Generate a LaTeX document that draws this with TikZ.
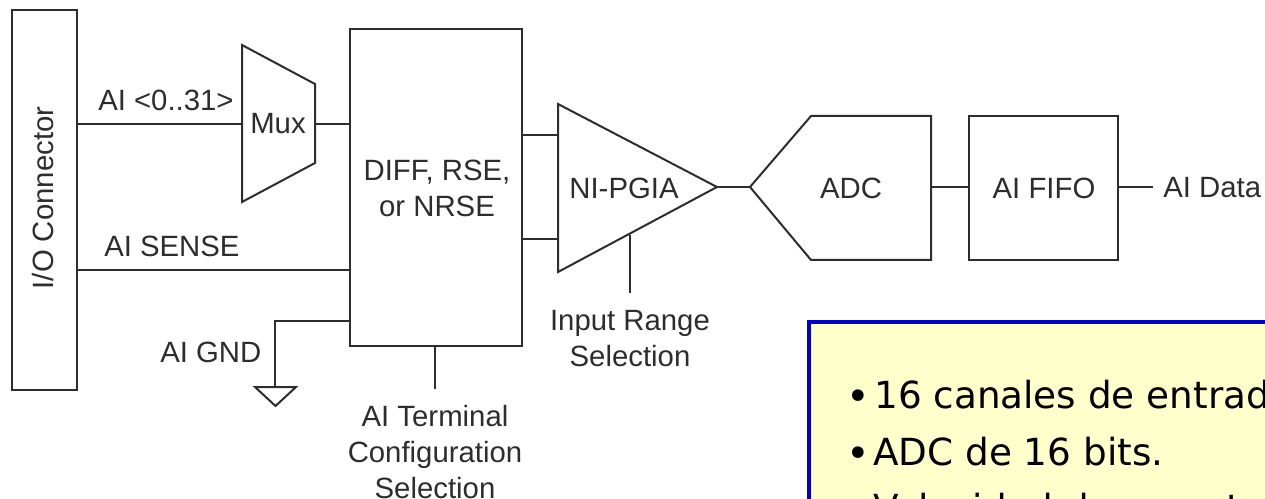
\documentclass[tikz,border=0pt]{standalone}
\usepackage{fontspec}
\setmainfont{Liberation Sans}
\newfontfamily\boxfont{DejaVu Sans}
\definecolor{ink}{RGB}{45,45,45}
\definecolor{noteblue}{RGB}{0,0,205}
\definecolor{notefill}{RGB}{255,255,204}
\tikzset{
  wire/.style={draw=ink,line width=1.5pt},
  block/.style={draw=ink,line width=1.5pt,fill=white},
  lbl/.style={text=ink,font=\fontsize{22}{27}\selectfont,inner sep=0pt,align=center},
  note/.style={text=black,font=\boxfont\fontsize{28}{34}\selectfont,inner sep=0pt,anchor=base west},
  notebullet/.style={text=black,font=\boxfont\fontsize{30}{34}\selectfont,inner sep=0pt,anchor=base west}
}
\begin{document}
\begin{tikzpicture}[x=0.75pt,y=-0.75pt]
\useasboundingbox (0,0) rectangle (1265,499);
\clip (0,0) rectangle (1265,499);
% blocks
\draw[block] (12,10) rectangle (77,390);
\node[lbl,rotate=90] (iolbl) at (43.5,198) {I/O Connector};
\draw[block] (242,45) -- (315,84) -- (315,163) -- (242,202) -- cycle;
\coordinate (muxL) at (242,124);
\coordinate (muxR) at (315,124);
\node[lbl] (muxlbl) at (278,124) {Mux};
\draw[block] (350,29) rectangle (522,346);
\node[lbl] (diff) at (437,188) {DIFF, RSE,\\or NRSE};
\draw[block] (558,104) -- (717,187) -- (558,272) -- cycle;
\node[lbl] (pgia) at (624,188) {NI-PGIA};
\draw[block] (750,187) -- (811,116) -- (931,116) -- (931,260) -- (811,260) -- cycle;
\node[lbl] (adc) at (851,188) {ADC};
\draw[block] (969,116) rectangle (1118,260);
\node[lbl] (fifo) at (1044,188) {AI FIFO};
% connectors
\coordinate (ioA) at (77,124);
\coordinate (ioB) at (77,270);
\coordinate (diffA) at (350,124);
\coordinate (diffB) at (350,270);
\coordinate (diffC) at (350,321);
\coordinate (diffD) at (435,346);
\coordinate (diffE) at (522,135);
\coordinate (diffF) at (522,239);
\coordinate (pgA) at (558,135);
\coordinate (pgB) at (558,239);
\coordinate (pgOut) at (717,187);
\coordinate (adcIn) at (750,187);
\coordinate (adcOut) at (931,187);
\coordinate (fifoIn) at (969,187);
\coordinate (fifoOut) at (1118,187);
\coordinate (dataEnd) at (1153,187);
\coordinate (gndTop) at (275,387);
\coordinate (termEnd) at (435,389);
\coordinate (rangeTop) at (630,235);
\coordinate (rangeEnd) at (630,293);
\draw[wire] (ioA) -- (muxL);
\draw[wire] (muxR) -- (diffA);
\draw[wire] (ioB) -- (diffB);
\draw[wire] (diffC) -| (gndTop);
\draw[wire] (diffD) -- (termEnd);
\draw[wire] (diffE) -- (pgA);
\draw[wire] (diffF) -- (pgB);
\draw[wire] (pgOut) -- (adcIn);
\draw[wire] (adcOut) -- (fifoIn);
\draw[wire] (fifoOut) -- (dataEnd);
\draw[wire] (rangeTop) -- (rangeEnd);
\draw[wire,line join=miter] (255,387) -- (296,387) -- (275.5,406) -- cycle;
% labels
\node[lbl,anchor=west] (ai) at (98,100) {AI <0..31>};
\node[lbl,anchor=west] (sense) at (104,246) {AI SENSE};
\node[lbl,anchor=west] (gnd) at (160,352) {AI GND};
\node[lbl,anchor=west] (data) at (1163,188) {AI Data};
\node[lbl] (range) at (630,339) {Input Range\\Selection};
\node[lbl] (term) at (435,452) {AI Terminal\\Configuration\\Selection};
% note
\draw[draw=noteblue,line width=3pt,fill=notefill] (808.5,322.5) rectangle (1300,560);
\node[notebullet] (n0) at (846,410) {\textbullet};
\node[note] (n1) at (874,408) {16 canales de entrad};
\node[notebullet] (n2a) at (846,467) {\textbullet};
\node[note] (n2) at (873,465) {ADC de 16 bits.};
\node[note] (n3) at (873,521) {Velocidad de muestr};
\end{tikzpicture}
\end{document}
